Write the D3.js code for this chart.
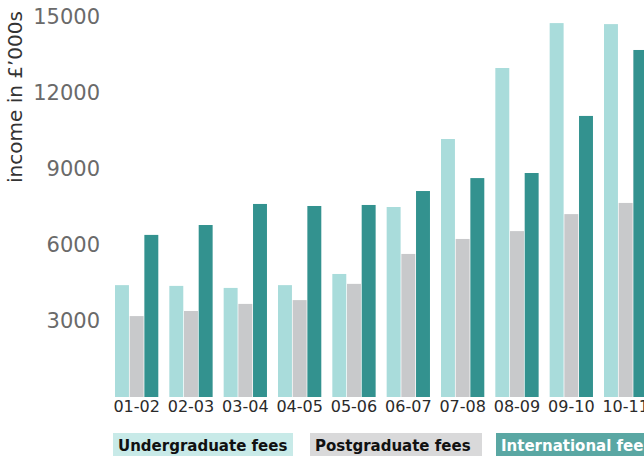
<!DOCTYPE html>
<html>
<head>
<meta charset="utf-8">
<script src="https://cdn.jsdelivr.net/npm/d3@7"></script>
<style>
  html, body { margin: 0; padding: 0; background: #fff; }
  svg { display: block; font-family: "DejaVu Sans", sans-serif; }
</style>
</head>
<body>
<svg id="chart" width="644" height="456"></svg>
<script>
// Academic years shown on the x axis
const years = ["01-02", "02-03", "03-04", "04-05", "05-06", "06-07", "07-08", "08-09", "09-10", "10-11"];

// Fee income per year, in £'000s
const undergraduate = [4410, 4380, 4300, 4410, 4850, 7490, 10170, 12970, 14740, 14700];
const postgraduate  = [3190, 3390, 3670, 3820, 4460, 5640, 6230, 6540, 7210, 7650];
const international = [6390, 6780, 7610, 7530, 7570, 8120, 8630, 8830, 11080, 13680];

const yTicks = [3000, 6000, 9000, 12000, 15000];

const seriesNames = ["Undergraduate fees", "Postgraduate fees", "International fees"];
const seriesValues = [undergraduate, postgraduate, international];
const barColors = ["#a9dcdb", "#c8c9cb", "#33928f"];
const legendFills = ["#c8eae8", "#d9d9da", "#5aa7a3"];
const legendText = ["#111", "#111", "#fff"];

const svg = d3.select("#chart");

const x0 = d3.scaleBand()
  .domain(years)
  .range([115, 647.3])
  .paddingInner(0.203)
  .paddingOuter(0);

const x1 = d3.scaleBand()
  .domain(d3.range(seriesNames.length))
  .range([0, x0.bandwidth()])
  .paddingInner(0.05)
  .paddingOuter(0);

const y = d3.scaleLinear()
  .domain([0, 15000])
  .range([397, 16.5]);

// Grouped bars
const groups = svg.append("g")
  .selectAll("g")
  .data(years)
  .join("g")
  .attr("transform", d => `translate(${x0(d)},0)`);

groups.selectAll("rect")
  .data((d, i) => seriesValues.map((vals, s) => ({ s, v: vals[i] })))
  .join("rect")
  .attr("x", d => x1(d.s))
  .attr("width", x1.bandwidth())
  .attr("y", d => y(d.v))
  .attr("height", d => y(0) - y(d.v))
  .attr("fill", d => barColors[d.s]);

// Y axis: labels only
const yAxis = svg.append("g")
  .attr("transform", "translate(100,0)")
  .call(d3.axisLeft(y).tickValues(yTicks).tickSize(0).tickPadding(0).tickFormat(d3.format("d")));
yAxis.select(".domain").remove();
yAxis.selectAll("text")
  .attr("fill", "#6a6a6a")
  .style("font-size", "21px")
  .style("font-family", "DejaVu Sans, sans-serif");

// X axis: labels only
const xAxis = svg.append("g")
  .attr("transform", `translate(0,${y(0)})`)
  .call(d3.axisBottom(x0).tickSize(0).tickPadding(4));
xAxis.select(".domain").remove();
xAxis.selectAll("text")
  .attr("fill", "#2a2a2a")
  .style("font-size", "16px")
  .style("font-family", "DejaVu Sans, sans-serif");

// Y axis title
svg.append("text")
  .attr("transform", "translate(22,97) rotate(-90)")
  .attr("text-anchor", "middle")
  .attr("fill", "#333")
  .style("font-size", "20px")
  .text("income in £’000s");

// Legend
const legendX = [113, 310, 496];
const legendW = [180, 172, 170];
const legend = svg.append("g")
  .selectAll("g")
  .data(seriesNames)
  .join("g")
  .attr("transform", (d, i) => `translate(${legendX[i]},433)`);

legend.append("rect")
  .attr("width", (d, i) => legendW[i])
  .attr("height", 26)
  .attr("fill", (d, i) => legendFills[i]);

legend.append("text")
  .attr("x", 5)
  .attr("y", 17.5)
  .attr("fill", (d, i) => legendText[i])
  .style("font-size", "15px")
  .style("font-weight", "600")
  .text(d => d);
</script>
</body>
</html>
